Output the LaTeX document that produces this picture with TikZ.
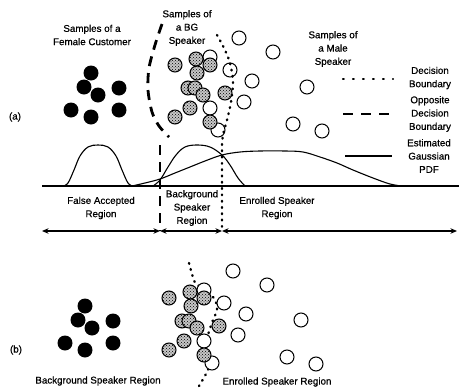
\documentclass[tikz,border=0pt]{standalone}
\usepackage{fontspec}
\setmainfont{Liberation Sans}[BoldFont=Liberation Sans, BoldFeatures={FakeBold=0.6}]
\usetikzlibrary{arrows.meta,patterns}
\tikzset{
  lbl/.style={font=\fontsize{9.8}{13.3}\selectfont\bfseries, align=center, inner sep=0pt},
  oc/.style={draw, line width=1pt, fill=white},
  hc/.style={draw, line width=1pt, preaction={fill=black!22}, pattern=crosshatch dots},
  bc/.style={fill=black},
  dotline/.style={line width=2.4pt, dash pattern=on 0.8pt off 5.5pt, line cap=round},
  dashline/.style={line width=2.8pt, dash pattern=on 10pt off 7pt},
  curve/.style={line width=1.1pt},
  arr/.style={line width=1.3pt, {Stealth[length=6.5pt,width=5.5pt]}-{Stealth[length=6.5pt,width=5.5pt]}}
}
\newcommand\drawsamples{%
  % female customer
  \foreach \p in {(91,73),(84,87),(98,95),(119,88),(71,110),(91,117),(119,110)}
    \fill[bc] \p circle[radius=7.5pt];
  % open circles
  \foreach \p in {(210,57),(230,70),(210,108),(218,130),(239,38),(273,52),(252,81),(307,87),(244,102),(293,124),(322,131)}
    \draw[oc] \p circle[radius=7pt];
  % hatched circles
  \foreach \p in {(175,65),(196,59),(210,65),(197,73),(188,88),(195,88),(203,95),(225,93),(175,117),(190,108),(210,122)}
    \draw[hc] \p circle[radius=7pt];
}
\begin{document}
\begin{tikzpicture}[x=1pt,y=-1pt]
\useasboundingbox (0,0) rectangle (459,389);

% ---------- (a) ----------
\drawsamples
% opposite decision boundary (dashed)
\draw[dashline] plot[smooth] coordinates {(162,24) (155,45) (149,68) (148,90) (152,112) (159,126) (169,137)};
\draw[dashline] (160,145) -- (160,231);
% decision boundary (dotted)
\draw[dotline] plot[smooth] coordinates {(217,35) (224,48) (230,63) (233,82) (231,102) (227,120) (223,135) (222,145)} -- (222,231);

% axis and pdfs
\coordinate (b0) at (42,186);
\coordinate (b1) at (459,186);
\draw[curve] (b0) -- (b1);
\draw[curve] plot[smooth, tension=0.6] coordinates {(63,186) (68,183) (74,170) (80,156) (88,147) (98,145) (108,147) (116,156) (122,170) (128,183) (133,186)};
\draw[curve] plot[smooth, tension=0.6] coordinates {(153,186) (160,180) (168,167) (176,155) (185,147) (197,145) (210,147) (222,155) (230,165) (238,178) (245,186)};
\draw[curve] plot[smooth, tension=0.6] coordinates {(132,186) (145,183) (160,179) (175,173) (190,167) (205,161) (222,155) (240,152) (260,151) (285,151) (303,152) (320,157) (337,163) (353,170) (373,178) (390,184) (402,186)};

% region arrows
\coordinate (a0) at (42,231);
\coordinate (a1) at (160,231);
\coordinate (a2) at (222,231);
\coordinate (a3) at (457,231);
\draw[arr] (a0) -- (a1);
\draw[arr] (a1) -- (a2);
\draw[arr] (a2) -- (a3);

% labels (a)
\node[lbl] (la) at (15,117) {(a)};
\node[lbl] (fem) at (92,35) {Samples of a\\Female Customer};
\node[lbl] (bg) at (187,28) {Samples of\\a BG\\Speaker};
\node[lbl] (male) at (333,49) {Samples of\\a Male\\Speaker};
\node[lbl] (far) at (101,208) {False Accepted\\Region};
\node[lbl] (bsr) at (192,208) {Background\\Speaker\\Region};
\node[lbl] (esr) at (277,208) {Enrolled Speaker\\Region};

% legend
\node[lbl] (l1) at (430,78) {Decision\\Boundary};
\node[lbl] (l2) at (430,114) {Opposite\\Decision\\Boundary};
\node[lbl] (l3) at (429,156) {Estimated\\Gaussian\\PDF};
\coordinate (d0) at (343,79);  \coordinate (d1) at (393,79);
\coordinate (e0) at (343,114); \coordinate (e1) at (393,114);
\coordinate (g0) at (345,156); \coordinate (g1) at (392,156);
\draw[dotline, dash pattern=on 0.8pt off 9.2pt] (d0) -- (d1);
\draw[dashline, dash pattern=on 10pt off 8pt] (e0) -- (e1);
\draw[curve] (g0) -- (g1);

% ---------- (b) ----------
\draw[dotline] plot[smooth] coordinates {(189,263) (192,274) (196,284) (206,289) (215,300) (217,310) (213,320) (208,335) (207,348) (211,360) (207,372) (199,386)};
\begin{scope}[shift={(-6,233)}]
\drawsamples
\end{scope}
\node[lbl] (lb) at (16,350) {(b)};
\node[lbl] (bsr2) at (98,381) {Background Speaker Region};
\node[lbl] (esr2) at (277,382) {Enrolled Speaker Region};
\end{tikzpicture}
\end{document}
